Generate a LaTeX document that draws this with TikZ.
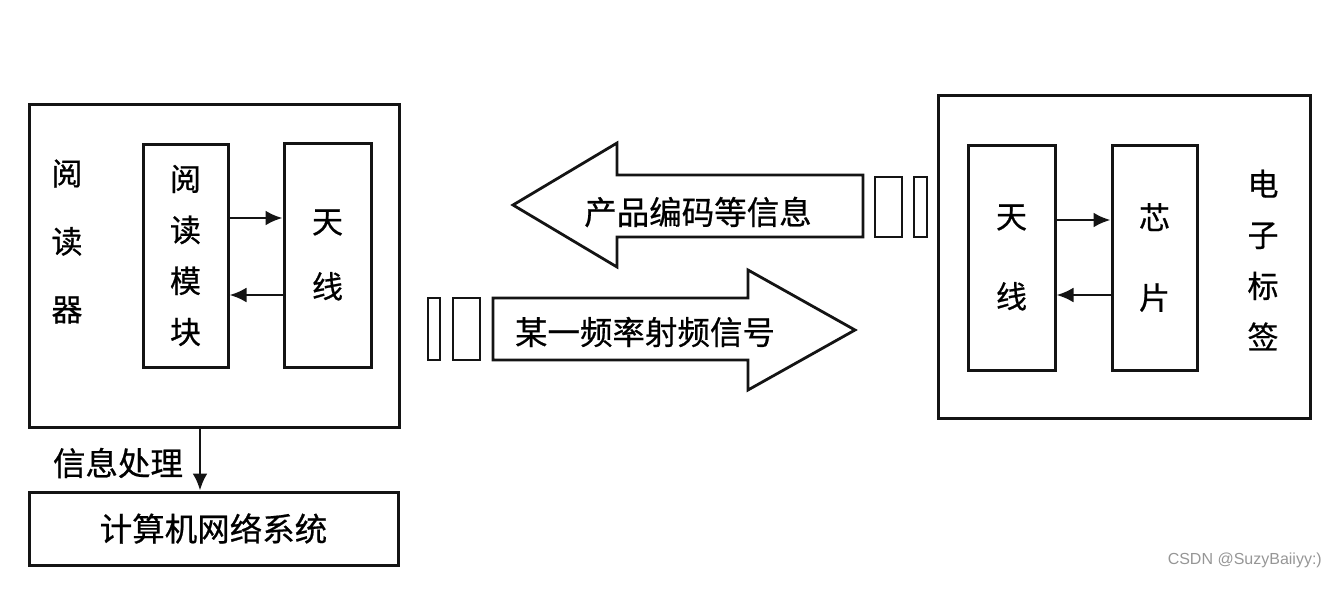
\documentclass[tikz,border=0pt]{standalone}
\usepackage{fontspec}
\newfontfamily\cjk[FakeBold=0.6]{Noto Sans CJK SC}
\newfontfamily\wmfont{Liberation Sans}
\usetikzlibrary{arrows.meta}
\definecolor{rline}{RGB}{20,20,20}
\definecolor{rmark}{RGB}{150,150,150}
\tikzset{
  box/.style={rectangle,draw=rline,line width=3pt,fill=white,inner sep=0pt,
              font=\cjk\fontsize{32.5}{36}\selectfont,align=center},
  txt/.style={font=\cjk\fontsize{32.5}{36}\selectfont,inner sep=0pt,align=center},
  vtxt/.style={font=\cjk\fontsize{31}{#1}\selectfont},
  link/.style={-{Latex[length=17pt,width=15pt]},rline,line width=2.8pt},
  bigarrow/.style={draw=rline,line width=2.8pt,fill=white,line join=miter},
  bar/.style={draw=rline,line width=2.6pt},
}

\begin{document}
\begin{tikzpicture}[x=1pt,y=-1pt]
  \useasboundingbox (0,0) rectangle (1338,590);
  % reader
  \node[box,minimum width=370pt,minimum height=323pt] (reader) at (214,265.5) {};
  \node[txt,vtxt=68] (readerlbl) at (67,241.5) {阅\\读\\器};
  \node[box,vtxt=51,minimum width=85pt,minimum height=223pt] (mod) at (185.5,255.5) {阅\\读\\模\\块};
  \node[box,vtxt=65,minimum width=87pt,minimum height=224pt] (antr) at (327.5,255) {天\\线};
  \draw[link] (mod.east |- 0,218) -- (antr.west |- 0,218);
  \draw[link] (antr.west |- 0,295) -- (mod.east |- 0,295);
  % network below
  \node[box,minimum width=369pt,minimum height=73pt] (net) at (213.5,528.5) {计算机网络系统};
  \draw[link] (reader.south -| 200,0) -- (net.north -| 200,0);
  \node[txt] (proc) at (118,463) {信息处理};
  % tag
  \node[box,minimum width=372pt,minimum height=323pt] (tag) at (1124,256.5) {};
  \node[txt,vtxt=51] (taglbl) at (1263,260) {电\\子\\标\\签};
  \node[box,vtxt=80,minimum width=87pt,minimum height=225pt] (antt) at (1011.5,257.5) {天\\线};
  \node[box,vtxt=80,minimum width=85pt,minimum height=225pt] (chip) at (1154.5,257.5) {芯\\片};
  \draw[link] (antt.east |- 0,220) -- (chip.west |- 0,220);
  \draw[link] (chip.west |- 0,295) -- (antt.east |- 0,295);
  % radio link, two block arrows
  \draw[bigarrow] (863,175) -- (617,175) -- (617,143) -- (513,205) -- (617,267)
    -- (617,237) -- (863,237) -- cycle;
  \draw[bigarrow] (493,298) -- (748,298) -- (748,270) -- (855,330) -- (748,390)
    -- (748,360) -- (493,360) -- cycle;
  \node[txt] (back) at (698,212) {产品编码等信息};
  \node[txt] (fwd) at (645,332) {某一频率射频信号};
  \foreach \xa/\xb/\ya/\yb in {875/902/177/237, 914/927/177/237,
                               428/440/298/360, 453/480/298/360}
    \draw[bar] (\xa,\ya) rectangle (\xb,\yb);
  \node[font=\wmfont\fontsize{16}{18}\selectfont,text=rmark,anchor=east,inner sep=0pt] (mark) at (1322,560) {CSDN @SuzyBaiiyy:)};
\end{tikzpicture}
\end{document}
